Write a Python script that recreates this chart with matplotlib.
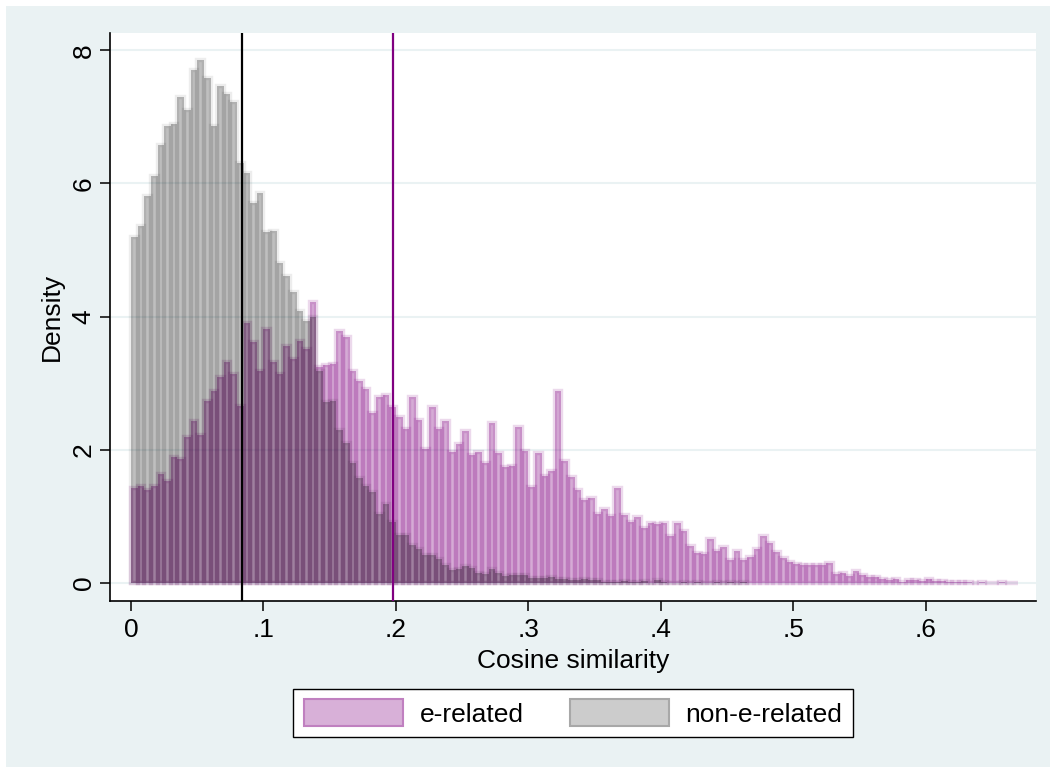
import numpy as np
import matplotlib
matplotlib.use("Agg")
import matplotlib.pyplot as plt
from matplotlib.patches import Patch, Rectangle

plt.rcParams['font.family'] = ['Liberation Sans', 'DejaVu Sans']

# histogram settings (bins start at 0, width .005)
BIN_WIDTH = 0.005

# density per bin
e_related = [
    1.43, 1.46, 1.40, 1.46, 1.63, 1.53, 1.89, 1.87, 2.19, 2.44,
    2.23, 2.74, 2.88, 3.09, 3.32, 3.14, 2.66, 3.91, 3.62, 3.19,
    3.82, 3.32, 3.14, 3.56, 3.36, 3.64, 3.51, 4.22, 3.24, 3.27,
    3.29, 3.78, 3.69, 3.18, 3.03, 2.91, 2.55, 2.80, 2.82, 2.65,
    2.50, 2.32, 2.79, 2.45, 2.01, 2.64, 2.31, 2.43, 1.97, 2.09,
    2.29, 1.92, 1.97, 1.80, 2.40, 1.96, 1.74, 1.75, 2.34, 1.98,
    1.44, 1.95, 1.61, 1.68, 2.88, 1.83, 1.59, 1.40, 1.24, 1.28,
    1.04, 1.11, 1.00, 1.43, 1.02, 0.92, 0.99, 0.83, 0.90, 0.89,
    0.90, 0.70, 0.90, 0.78, 0.56, 0.45, 0.44, 0.66, 0.48, 0.54,
    0.35, 0.48, 0.35, 0.39, 0.51, 0.71, 0.60, 0.47, 0.38, 0.32,
    0.29, 0.27, 0.27, 0.27, 0.27, 0.30, 0.14, 0.15, 0.11, 0.175,
    0.12, 0.085, 0.085, 0.06, 0.045, 0.06, 0.02, 0.045, 0.045, 0.03,
    0.06, 0.03, 0.03, 0.02, 0.02, 0.02, 0.02, 0.005, 0.01, 0.005,
    0.005, 0.01, 0.005, 0.005,
]

non_e_related = [
    5.19, 5.36, 5.81, 6.11, 6.58, 6.86, 6.89, 7.30, 7.10, 7.70,
    7.85, 7.58, 6.86, 7.46, 7.35, 7.23, 6.31, 6.16, 5.70, 5.86,
    5.27, 5.29, 4.80, 4.61, 4.37, 4.08, 3.94, 3.99, 3.19, 2.72,
    2.74, 2.30, 2.10, 1.80, 1.58, 1.46, 1.36, 1.04, 1.19, 0.92,
    0.72, 0.72, 0.57, 0.51, 0.42, 0.42, 0.36, 0.27, 0.20, 0.21,
    0.25, 0.23, 0.15, 0.14, 0.21, 0.15, 0.11, 0.12, 0.12, 0.12,
    0.07, 0.08, 0.08, 0.09, 0.06, 0.06, 0.05, 0.05, 0.06, 0.04,
    0.04, 0.01, 0.02, 0.01, 0.03, 0.02, 0.01, 0.03, 0.0, 0.04,
    0.01, 0.0, 0.0, 0.01, 0.0, 0.01, 0.0, 0.0, 0.01, 0.0,
    0.01, 0.0, 0.01,
]

# vertical reference lines (means)
non_e_line = 0.0839
e_line = 0.198

xticks = [0, 0.1, 0.2, 0.3, 0.4, 0.5, 0.6]
xticklabels = ['0', '.1', '.2', '.3', '.4', '.5', '.6']
yticks = [0, 2, 4, 6, 8]

BG = '#EAF2F3'
PURPLE = (0.5, 0.0, 0.5)
BLACK = (0.0, 0.0, 0.0)

fig = plt.figure(figsize=(10.5, 7.67), dpi=100, facecolor='white')
fig.patches.append(Rectangle((6 / 1050, 0), 1 - 6 / 1050, 1 - 6 / 767,
                             transform=fig.transFigure, facecolor=BG,
                             edgecolor='none', zorder=-10))

ax = fig.add_axes([110 / 1050, 1 - 601 / 767, 926 / 1050, 568 / 767])
ax.set_facecolor('white')

left_e = np.arange(len(e_related)) * BIN_WIDTH
left_n = np.arange(len(non_e_related)) * BIN_WIDTH

ax.bar(left_e, e_related, width=BIN_WIDTH, align='edge',
       facecolor=PURPLE + (0.33,), edgecolor=PURPLE + (0.15,),
       linewidth=3.2, zorder=2)
ax.bar(left_n, non_e_related, width=BIN_WIDTH, align='edge',
       facecolor=BLACK + (0.25,), edgecolor=BLACK + (0.07,),
       linewidth=3.2, zorder=3)

ax.axvline(non_e_line, color='black', linewidth=1.6, zorder=4)
ax.axvline(e_line, color='#800080', linewidth=1.6, zorder=4)

ax.set_xlim(-0.0159, 0.6833)
ax.set_ylim(-0.27, 8.26)
ax.set_yticks(yticks)
ax.set_yticklabels([str(t) for t in yticks], rotation=90, va='center')
ax.set_xticks(xticks)
ax.set_xticklabels(xticklabels)
ax.yaxis.grid(True, color=BG, linewidth=1.5, zorder=0)
ax.set_axisbelow(True)

ax.tick_params(axis='both', length=7.2, width=1.1, labelsize=19,
               color='black')
ax.tick_params(axis='y', pad=3)
ax.tick_params(axis='x', pad=5)
for side in ['top', 'right']:
    ax.spines[side].set_visible(False)
for side in ['left', 'bottom']:
    ax.spines[side].set_linewidth(1.2)

ax.set_xlabel('Cosine similarity', fontsize=19, labelpad=5)
ax.set_ylabel('Density', fontsize=19, labelpad=6)

handles = [
    Patch(facecolor='#D8B0D8', edgecolor='#C080C0', linewidth=1.5),
    Patch(facecolor='#CCCCCC', edgecolor='#A8A8A8', linewidth=1.5),
]
leg = fig.legend(handles, ['e-related', 'non-e-related'], loc='center',
                 bbox_to_anchor=(573 / 1050, 1 - 713 / 767), ncol=2,
                 fontsize=19, frameon=True, fancybox=False,
                 edgecolor='black', facecolor='white', framealpha=1,
                 handlelength=3.75, handleheight=1.17, handletextpad=0.64,
                 columnspacing=1.75, borderpad=0.4)
leg.get_frame().set_linewidth(1.0)

fig.savefig('out.png', dpi=100, facecolor=fig.get_facecolor())
